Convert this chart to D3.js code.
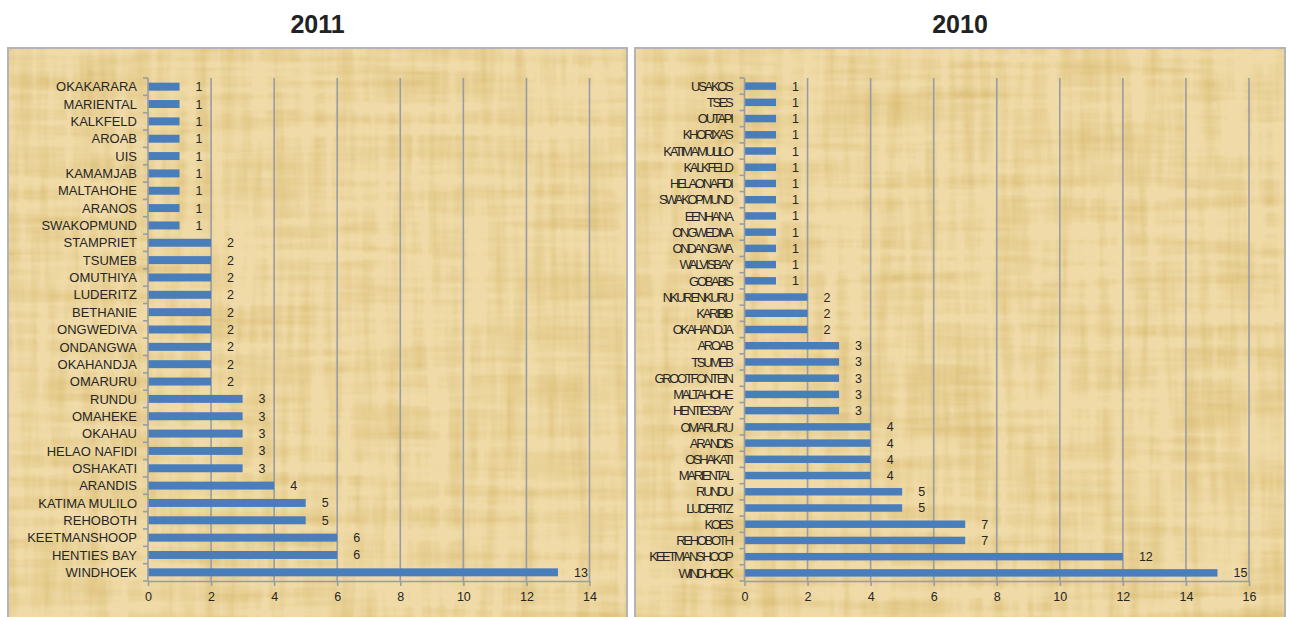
<!DOCTYPE html>
<html><head><meta charset="utf-8">
<script src="https://cdn.jsdelivr.net/npm/d3@7"></script>
<style>
body{margin:0;background:#fff;font-family:"Liberation Sans",Arial,sans-serif;}
svg{display:block;}
</style></head><body>
<svg id="chart" width="1289" height="617"></svg>
<script>
// ---- data ----
const cats2011 = ["OKAKARARA","MARIENTAL","KALKFELD","AROAB","UIS","KAMAMJAB","MALTAHOHE","ARANOS","SWAKOPMUND",
  "STAMPRIET","TSUMEB","OMUTHIYA","LUDERITZ","BETHANIE","ONGWEDIVA","ONDANGWA","OKAHANDJA","OMARURU",
  "RUNDU","OMAHEKE","OKAHAU","HELAO NAFIDI","OSHAKATI","ARANDIS ","KATIMA MULILO","REHOBOTH","KEETMANSHOOP","HENTIES BAY","WINDHOEK"];
const vals2011 = [1,1,1,1,1,1,1,1,1, 2,2,2,2,2,2,2,2,2, 3,3,3,3,3, 4,5,5,6,6,13];
const ticks2011 = [0,2,4,6,8,10,12,14];

const cats2010 = ["USAKOS","TSES","OUTAPI","KHORIXAS","KATIMAMULILO","KALKFELD","HELAONAFIDI","SWAKOPMUND","EENHANA",
  "ONGWEDIVA","ONDANGWA","WALVISBAY","GOBABIS","NKURENKURU","KARIBIB","OKAHANDJA","AROAB","TSUMEB","GROOTFONTEIN",
  "MALTAHOHE","HENTIESBAY","OMARURU","ARANDIS","OSHAKATI","MARIENTAL","RUNDU","LUDERITZ","KOES","REHOBOTH","KEETMANSHOOP","WINDHOEK"];
const vals2010 = [1,1,1,1,1,1,1,1,1,1,1,1,1, 2,2,2, 3,3,3,3,3, 4,4,4,4, 5,5, 7,7,12,15];
const ticks2010 = [0,2,4,6,8,10,12,14,16];

const titles = ["2011","2010"];

// ---- drawing ----
const svg = d3.select("#chart");
const defs = svg.append("defs");

// papyrus-like texture
const f = defs.append("filter").attr("id","papyrus").attr("x",0).attr("y",0).attr("width","100%").attr("height","100%")
  .attr("color-interpolation-filters","sRGB");
f.append("feTurbulence").attr("type","fractalNoise").attr("baseFrequency","0.006 0.08").attr("numOctaves",3).attr("seed",3).attr("result","n1");
f.append("feTurbulence").attr("type","fractalNoise").attr("baseFrequency","0.08 0.006").attr("numOctaves",3).attr("seed",7).attr("result","n2");
f.append("feComposite").attr("in","n1").attr("in2","n2").attr("operator","arithmetic").attr("k2",0.5).attr("k3",0.5).attr("result","n");
f.append("feColorMatrix").attr("in","n").attr("type","matrix")
  .attr("values","0 0 0 0 0.84  0 0 0 0 0.72  0 0 0 0 0.42  1.8 0 0 0 -0.72").attr("result","stain");
f.append("feFlood").attr("flood-color","#f0dba8").attr("result","base");
f.append("feComposite").attr("in","stain").attr("in2","base").attr("operator","over");

const panels = [
  {title:titles[0], cats:cats2011, vals:vals2011, ticks:ticks2011, px0:8, px1:627, x0:148, x1:589.5, condensed:false},
  {title:titles[1], cats:cats2010, vals:vals2010, ticks:ticks2010, px0:635, px1:1285, x0:744.5, x1:1249, condensed:true}
];
const plotTop = 78, plotBottom = 581;

panels.forEach(p => {
  const g = svg.append("g");
  // panel background with texture
  g.append("rect").attr("x",p.px0).attr("y",48).attr("width",p.px1-p.px0).attr("height",617-48+5)
    .attr("fill","#f0dcab").attr("filter","url(#papyrus)");
  g.append("rect").attr("x",p.px0).attr("y",48).attr("width",p.px1-p.px0).attr("height",617-48+5)
    .attr("fill","none").attr("stroke","#b4b4b4").attr("stroke-width",2);

  g.append("text").attr("x",(p.px0+p.px1)/2).attr("y",33).attr("text-anchor","middle")
    .attr("font-size",25).attr("font-weight","bold").attr("fill","#222").text(p.title);

  const maxT = p.ticks[p.ticks.length-1];
  const x = d3.scaleLinear().domain([0,maxT]).range([p.x0,p.x1]);
  const y = d3.scaleBand().domain(p.cats).range([plotTop,plotBottom]).paddingInner(0.54).paddingOuter(0.27);

  // gridlines
  g.selectAll(".grid").data(p.ticks.slice(1)).join("line")
    .attr("x1",d=>x(d)).attr("x2",d=>x(d)).attr("y1",plotTop).attr("y2",plotBottom)
    .attr("stroke","#989ca3").attr("stroke-width",1.6);

  // bars
  g.selectAll(".bar").data(p.cats).join("rect")
    .attr("x",x(0)).attr("y",d=>y(d)).attr("width",(d,i)=>x(p.vals[i])-x(0)).attr("height",y.bandwidth())
    .attr("fill","#4a7ebb");

  // value labels
  g.selectAll(".val").data(p.cats).join("text")
    .attr("x",(d,i)=>x(p.vals[i])+16).attr("y",d=>y(d)+y.bandwidth()/2).attr("dy","0.36em")
    .attr("font-size",12.5).attr("fill","#262626").text((d,i)=>p.vals[i]);

  // x axis
  const xa = g.append("g").attr("transform",`translate(0,${plotBottom})`)
    .call(d3.axisBottom(x).tickValues(p.ticks).tickSize(5).tickPadding(6).tickSizeOuter(0));
  xa.select(".domain").attr("stroke","#989ca3").attr("stroke-width",1.6);
  xa.selectAll(".tick line").attr("stroke","#989ca3").attr("stroke-width",1.6);
  xa.selectAll("text").attr("font-size",12.5).attr("fill","#262626").attr("font-family","Liberation Sans, Arial, sans-serif");

  // y axis
  const step = (plotBottom-plotTop)/p.cats.length;
  g.append("line").attr("x1",x(0)).attr("x2",x(0)).attr("y1",plotTop).attr("y2",plotBottom)
    .attr("stroke","#989ca3").attr("stroke-width",1.6);
  g.selectAll(".ytick").data(d3.range(p.cats.length+1)).join("line")
    .attr("x1",x(0)-5).attr("x2",x(0)).attr("y1",i=>plotTop+i*step).attr("y2",i=>plotTop+i*step)
    .attr("stroke","#989ca3").attr("stroke-width",1.6);
  g.selectAll(".ylab").data(p.cats).join("text")
    .attr("x",x(0)-11).attr("y",d=>y(d)+y.bandwidth()/2).attr("dy","0.36em").attr("text-anchor","end")
    .attr("font-size",13).attr("fill","#262626")
    .attr("letter-spacing",p.condensed?"-2.3px":"0px")
    .attr("dx",p.condensed?"-2px":"0")
    .text(d=>d);
});
</script>
</body></html>
